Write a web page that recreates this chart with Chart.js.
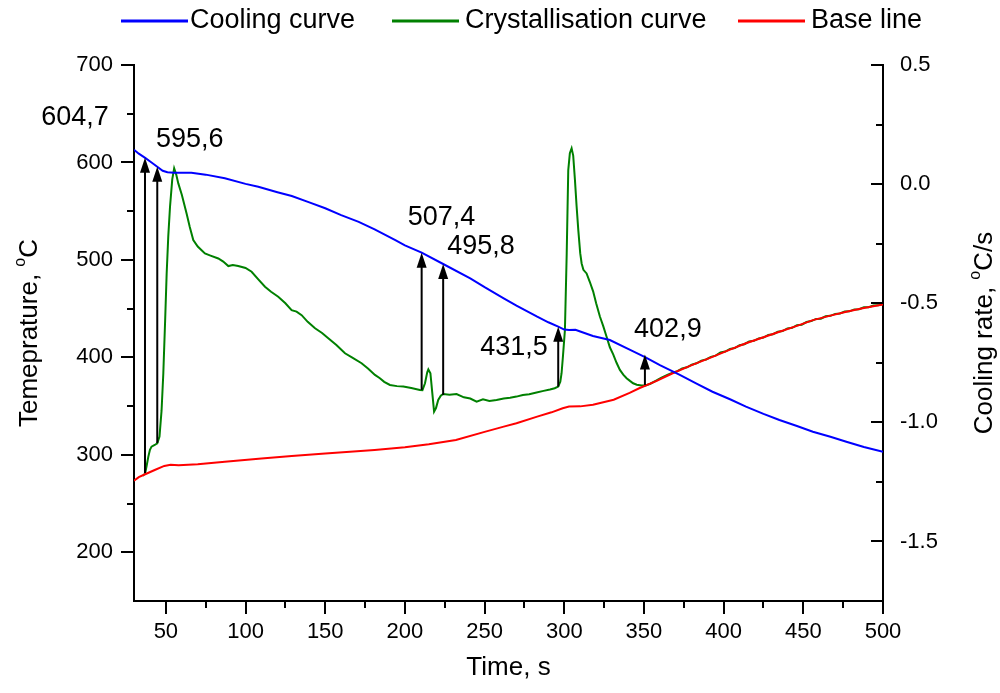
<!DOCTYPE html>
<html>
<head>
<meta charset="utf-8">
<script src="https://cdn.jsdelivr.net/npm/chart.js@4.4.0/dist/chart.umd.min.js"></script>
<style>
  body { margin: 0; background: #fff; }
  #wrap { width: 1000px; height: 693px; }
</style>
</head>
<body>
<div id="wrap"><canvas id="chart" width="1000" height="693"></canvas></div>
<script>
// Cooling curve (left axis, temperature °C)
const coolingTime = [30, 33, 37, 41, 44.6, 48, 51, 55, 60, 66,
  75, 87, 100, 108, 120, 129, 140, 150, 160, 171,
  181, 194, 200, 210.5, 224, 241, 250, 262, 270, 283,
  290, 296.2, 300, 303, 307, 310, 318, 328.6, 341, 351,
  360, 372.5, 383, 393, 404, 414, 425, 435, 446, 456,
  467, 477, 488, 500];
const coolingTemp = [613, 609, 604.7, 600, 595.6, 591.5, 590, 589.5, 589.5, 589.5,
  587.5, 583.7, 578, 575, 569.5, 565.6, 559, 553, 546, 539,
  531.4, 520.4, 515, 507.4, 495.8, 481, 472, 460.6, 453, 441.7,
  436, 431.5, 428.5, 428, 428.3, 426.5, 422, 417.8, 408, 400,
  392, 382, 373, 364.7, 357, 349.4, 342, 335.7, 329.5, 323.7,
  318.5, 313.4, 308, 303];

// Base line (right axis, cooling rate °C/s)
const baseTime = [30, 33, 37, 43, 49, 53, 58, 70, 87, 110,
  129, 150, 181, 200, 215, 232, 250, 262, 270, 283,
  292, 299, 303, 310, 318, 331, 341, 347, 358, 368,
  380, 393, 404, 414, 425, 435, 446, 456, 467, 477,
  488, 500];
const baseRate = [-1.245, -1.23, -1.218, -1.2, -1.183, -1.178, -1.18, -1.176, -1.165, -1.152,
  -1.141, -1.131, -1.116, -1.105, -1.092, -1.074, -1.04, -1.018, -1.004, -0.976,
  -0.958, -0.941, -0.934, -0.933, -0.926, -0.905, -0.876, -0.857, -0.826, -0.794,
  -0.76, -0.725, -0.695, -0.668, -0.643, -0.62, -0.595, -0.571, -0.552, -0.536,
  -0.52, -0.505];

// Crystallisation curve (right axis, cooling rate °C/s)
const crystTime = [35.5, 37, 38, 39, 40, 41, 43, 44.6, 46, 47.3,
  48.4, 49.5, 50.5, 51.5, 52.6, 54, 55.2, 56.5, 57.8, 60,
  63, 65, 67.2, 70, 74.5, 78, 82.9, 86, 89.2, 92,
  95.4, 100, 103.8, 108, 112.2, 116, 120.5, 125, 128.9, 132,
  135.2, 139, 143.6, 148, 151.9, 157, 162.4, 167, 172.8, 177,
  181.2, 184.3, 187, 190.6, 195, 199, 204, 209.4, 211, 212.6,
  214, 214.7, 216, 217.4, 218.3, 219.5, 220.9, 222.5, 224, 228,
  232.4, 237, 241, 245, 249, 253, 257.5, 262, 266, 270,
  274, 278, 282.6, 287, 291, 294, 296.2, 297.5, 298.3, 299.2,
  300.4, 301.5, 302.5, 303.5, 304.6, 305.6, 306.7, 307.7, 308.8, 310,
  310.9, 312, 314, 316, 318.1, 320, 322.4, 324.4, 326.5, 328.6,
  330.7, 332.8, 334.9, 337, 339.1, 341.2, 343.2, 345.5, 348.5, 351,
  354, 357.9, 361, 365, 368, 371, 374, 377, 380, 383,
  386, 389, 392, 395, 398, 401, 404, 407, 410, 413,
  416, 419, 422, 425, 428, 431, 434, 437, 440, 443,
  446, 449, 452, 455, 458, 461, 464, 467, 470, 473,
  476, 479, 482, 485, 488, 491, 494, 497, 500];
const crystRate = [-1.225, -1.214, -1.18, -1.144, -1.115, -1.102, -1.095, -1.088, -1.06, -0.95,
  -0.794, -0.58, -0.374, -0.22, -0.095, 0.02, 0.066, 0.04, 0.003, -0.045,
  -0.123, -0.18, -0.235, -0.262, -0.291, -0.3, -0.312, -0.325, -0.344, -0.34,
  -0.344, -0.352, -0.368, -0.4, -0.431, -0.452, -0.473, -0.5, -0.529, -0.535,
  -0.55, -0.578, -0.605, -0.625, -0.647, -0.675, -0.71, -0.728, -0.752, -0.775,
  -0.801, -0.815, -0.83, -0.843, -0.848, -0.85, -0.856, -0.864, -0.865, -0.836,
  -0.79, -0.778, -0.794, -0.892, -0.955, -0.94, -0.906, -0.888, -0.881, -0.884,
  -0.881, -0.895, -0.9, -0.913, -0.903, -0.91, -0.906, -0.9, -0.897, -0.892,
  -0.885, -0.882, -0.875, -0.868, -0.862, -0.857, -0.85, -0.83, -0.794, -0.72,
  -0.613, -0.3, 0.059, 0.13, 0.15, 0.12, 0.017, -0.09, -0.193, -0.29,
  -0.333, -0.36, -0.375, -0.41, -0.45, -0.5, -0.557, -0.595, -0.64, -0.685,
  -0.715, -0.75, -0.78, -0.8, -0.815, -0.826, -0.836, -0.842, -0.845, -0.845,
  -0.838, -0.824, -0.812, -0.8, -0.792, -0.785, -0.774, -0.769, -0.758, -0.752,
  -0.741, -0.736, -0.725, -0.72, -0.707, -0.703, -0.692, -0.688, -0.676, -0.672,
  -0.661, -0.658, -0.648, -0.644, -0.633, -0.63, -0.62, -0.617, -0.606, -0.603,
  -0.592, -0.59, -0.579, -0.575, -0.566, -0.565, -0.555, -0.553, -0.545, -0.543,
  -0.535, -0.534, -0.526, -0.525, -0.517, -0.517, -0.51, -0.509, -0.503];

// Arrows: from the rate curve up to the temperature on the cooling curve
const arrowTime = [36.9, 44.6, 210.5, 224, 296.2, 350.6];
const arrowFromRate = [-1.213, -1.087, -0.864, -0.885, -0.85, -0.843];
const arrowToTemp = [604.7, 595.6, 507.4, 495.8, 431.5, 402.9];
const arrowLabels = ['604,7', '595,6', '507,4', '495,8', '431,5', '402,9'];
const labelTime = [-7, 65, 223, 247.7, 268.4, 365];
const labelTemp = [645.6, 623, 543, 513.5, 410, 429];

// Axis ticks (labels only on the major ones)
const xTicks = [50, 75, 100, 125, 150, 175, 200, 225, 250, 275, 300, 325, 350, 375, 400, 425, 450, 475, 500];
const tempTicks = [200, 250, 300, 350, 400, 450, 500, 550, 600, 650, 700];
const rateTicks = [-1.5, -1.25, -1, -0.75, -0.5, -0.25, 0, 0.25, 0.5];

const FONT = '"Liberation Sans", Arial, sans-serif';
const toPoints = (xs, ys) => xs.map((x, i) => ({ x: x, y: ys[i] }));
const isMajorRate = v => Math.abs(v * 2 - Math.round(v * 2)) < 1e-9;

function drawRich(ctx, parts, cx, cy, size) {
    const widths = parts.map(p => {
        ctx.font = (p.sup ? Math.round(size * 0.62) : size) + 'px ' + FONT;
        return ctx.measureText(p.text).width;
    });
    let x = cx - widths.reduce((a, b) => a + b, 0) / 2;
    parts.forEach((p, i) => {
        ctx.font = (p.sup ? Math.round(size * 0.62) : size) + 'px ' + FONT;
        ctx.fillText(p.text, x, p.sup ? cy - size * 0.36 : cy);
        x += widths[i];
    });
}

const decorPlugin = {
    id: 'decor',
    afterDatasetsDraw(chart) {
        const ctx = chart.ctx;
        const { x, yTemp, yRate } = chart.scales;
        ctx.save();
        ctx.strokeStyle = '#000';
        ctx.fillStyle = '#000';
        ctx.lineWidth = 2;
        arrowTime.forEach((t, i) => {
            const px = x.getPixelForValue(t);
            const yBottom = yRate.getPixelForValue(arrowFromRate[i]);
            const yTip = yTemp.getPixelForValue(arrowToTemp[i]);
            ctx.beginPath();
            ctx.moveTo(px, yBottom);
            ctx.lineTo(px, yTip + 12);
            ctx.stroke();
            ctx.beginPath();
            ctx.moveTo(px, yTip);
            ctx.lineTo(px - 5, yTip + 15);
            ctx.lineTo(px + 5, yTip + 15);
            ctx.closePath();
            ctx.fill();
        });
        ctx.font = '27px ' + FONT;
        ctx.textAlign = 'center';
        ctx.textBaseline = 'middle';
        arrowLabels.forEach((txt, i) => {
            ctx.fillText(txt, x.getPixelForValue(labelTime[i]), yTemp.getPixelForValue(labelTemp[i]));
        });
        ctx.restore();
    },
    afterDraw(chart) {
        const ctx = chart.ctx;
        const area = chart.chartArea;
        const { x, yTemp, yRate } = chart.scales;
        ctx.save();

        // tick marks: left and bottom outwards, right inwards
        ctx.strokeStyle = '#000';
        ctx.lineWidth = 2;
        ctx.beginPath();
        xTicks.forEach(v => {
            const px = Math.round(x.getPixelForValue(v));
            const len = v % 50 === 0 ? 13 : 7;
            ctx.moveTo(px, area.bottom);
            ctx.lineTo(px, area.bottom + len);
        });
        tempTicks.forEach(v => {
            const py = Math.round(yTemp.getPixelForValue(v));
            const len = v % 100 === 0 ? 13 : 7;
            ctx.moveTo(area.left, py);
            ctx.lineTo(area.left - len, py);
        });
        rateTicks.forEach(v => {
            const py = Math.round(yRate.getPixelForValue(v));
            const len = isMajorRate(v) ? 12 : 7;
            ctx.moveTo(area.right, py);
            ctx.lineTo(area.right - len, py);
        });
        ctx.stroke();

        // axis titles
        ctx.fillStyle = '#000';
        ctx.textAlign = 'left';
        ctx.textBaseline = 'middle';
        const midY = (area.top + area.bottom) / 2;
        drawRich(ctx, [{ text: 'Time, s' }], (area.left + area.right) / 2, 668, 26);

        ctx.save();
        ctx.translate(30, midY);
        ctx.rotate(-Math.PI / 2);
        drawRich(ctx, [{ text: 'Temeprature, ' }, { text: 'o', sup: true }, { text: 'C' }], 0, 0, 26);
        ctx.restore();

        ctx.save();
        ctx.translate(985, midY);
        ctx.rotate(-Math.PI / 2);
        drawRich(ctx, [{ text: 'Cooling rate, ' }, { text: 'o', sup: true }, { text: 'C/s' }], 0, 0, 26);
        ctx.restore();

        // legend
        const legendX = [121, 392, 738];
        const legendOrder = [0, 2, 1];
        ctx.font = '27px ' + FONT;
        legendOrder.forEach((di, k) => {
            const ds = chart.data.datasets[di];
            ctx.strokeStyle = ds.borderColor;
            ctx.lineWidth = 3;
            ctx.beginPath();
            ctx.moveTo(legendX[k], 21);
            ctx.lineTo(legendX[k] + 67, 21);
            ctx.stroke();
            ctx.fillText(ds.label, legendX[k] + (k === 0 ? 69 : 73), 21);
        });
        ctx.restore();
    }
};

const tickFont = { family: FONT, size: 22 };

new Chart(document.getElementById('chart'), {
    type: 'line',
    data: {
        datasets: [
            {
                label: 'Cooling curve',
                data: toPoints(coolingTime, coolingTemp),
                yAxisID: 'yTemp',
                borderColor: '#0000ff'
            },
            {
                label: 'Base line',
                data: toPoints(baseTime, baseRate),
                yAxisID: 'yRate',
                borderColor: '#ff0000'
            },
            {
                label: 'Crystallisation curve',
                data: toPoints(crystTime, crystRate),
                yAxisID: 'yRate',
                borderColor: '#008000'
            }
        ]
    },
    options: {
        responsive: false,
        animation: false,
        layout: { padding: { top: 65, left: 0, right: 0, bottom: 0 } },
        elements: {
            point: { radius: 0 },
            line: { borderWidth: 2, tension: 0, fill: false }
        },
        plugins: {
            legend: { display: false },
            tooltip: { enabled: false }
        },
        scales: {
            x: {
                type: 'linear',
                position: 'bottom',
                min: 30,
                max: 500,
                afterBuildTicks: s => { s.ticks = xTicks.map(v => ({ value: v })); },
                afterFit: s => { s.height = 92; },
                grid: { display: false, drawTicks: false },
                border: { display: true, color: '#000', width: 2 },
                ticks: {
                    autoSkip: false,
                    maxRotation: 0,
                    padding: 18,
                    color: '#000',
                    font: tickFont,
                    callback: v => (v % 50 === 0 ? String(v) : '')
                }
            },
            yTemp: {
                type: 'linear',
                position: 'left',
                min: 150,
                max: 700,
                afterBuildTicks: s => { s.ticks = tempTicks.map(v => ({ value: v })); },
                afterFit: s => { s.width = 134; },
                grid: { display: false, drawTicks: false },
                border: { display: true, color: '#000', width: 2 },
                ticks: {
                    autoSkip: false,
                    padding: 21,
                    color: '#000',
                    font: tickFont,
                    callback: v => (v % 100 === 0 ? String(v) : '')
                }
            },
            yRate: {
                type: 'linear',
                position: 'right',
                min: -1.75,
                max: 0.5,
                afterBuildTicks: s => { s.ticks = rateTicks.map(v => ({ value: v })); },
                afterFit: s => { s.width = 117; },
                grid: { display: false, drawTicks: false },
                border: { display: true, color: '#000', width: 2 },
                ticks: {
                    autoSkip: false,
                    padding: 17,
                    color: '#000',
                    font: tickFont,
                    callback: v => (isMajorRate(v) ? v.toFixed(1) : '')
                }
            }
        }
    },
    plugins: [decorPlugin]
});
</script>
</body>
</html>
